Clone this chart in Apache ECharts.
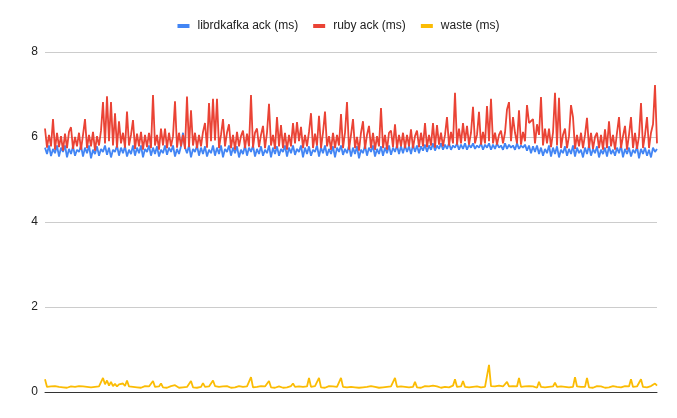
<!DOCTYPE html>
<html><head><meta charset="utf-8">
<script src="https://cdn.jsdelivr.net/npm/echarts@6/dist/echarts.min.js"></script>
<style>html,body{margin:0;padding:0;background:#fff}#c{width:677px;height:418px}</style>
</head><body><div id="c"></div>
<script>
const seriesNames = ["librdkafka ack (ms)", "ruby ack (ms)", "waste (ms)"];
const yTicks = [0, 2, 4, 6, 8];
const librdkafka = [
5.75,5.6,5.8,5.55,5.72,5.62,5.8,5.54,5.75,5.65,
5.8,5.52,5.72,5.6,5.78,5.56,5.7,5.65,5.8,5.54,
5.75,5.62,5.8,5.5,5.7,5.6,5.78,5.56,5.72,5.65,
5.8,5.58,5.75,5.52,5.7,5.65,5.8,5.56,5.75,5.62,
5.78,5.54,5.7,5.6,5.8,5.56,5.75,5.62,5.8,5.52,
5.72,5.65,5.8,5.56,5.75,5.6,5.78,5.54,5.7,5.62,
5.8,5.58,5.75,5.65,5.8,5.54,5.72,5.6,5.78,6.1,
5.75,5.62,5.8,5.52,5.72,5.65,5.8,5.56,5.75,5.6,
5.78,5.54,5.7,5.62,5.8,5.56,5.75,5.6,5.8,5.52,
5.72,5.65,5.8,5.56,5.75,5.62,5.78,5.52,5.7,5.6,
5.8,5.56,5.75,5.65,5.8,5.54,5.72,5.6,5.78,5.56,
5.7,5.62,5.8,5.52,5.75,5.6,5.78,5.56,5.72,5.65,
5.8,5.54,5.75,5.62,5.8,5.58,5.72,5.65,5.8,5.52,
5.75,5.6,5.78,5.56,5.7,5.65,5.8,5.54,5.75,5.62,
5.8,5.56,5.72,5.6,5.78,5.52,5.75,5.65,5.8,5.58,
5.72,5.62,5.8,5.54,5.75,5.6,5.78,5.5,5.7,5.62,
5.8,5.56,5.75,5.65,5.8,5.54,5.72,5.6,5.78,5.56,
5.75,5.62,5.8,5.58,5.75,5.65,5.8,5.6,5.78,5.62,
5.8,5.65,5.78,5.6,5.82,5.65,5.8,5.62,5.78,5.68,
5.82,5.65,5.8,5.7,5.85,5.68,5.8,5.72,5.85,5.7,
5.82,5.72,5.85,5.7,5.8,5.75,5.85,5.7,5.82,5.72,
5.85,5.7,5.82,5.75,5.85,5.72,5.8,5.75,5.85,5.7,
5.82,5.75,5.85,5.7,5.82,5.72,5.85,5.75,5.8,5.7,
5.85,5.72,5.82,5.75,5.8,5.7,5.85,5.72,5.8,5.75,
5.82,5.68,5.8,5.62,5.78,5.65,5.8,5.6,5.75,5.56,
5.72,5.62,5.8,5.54,5.75,5.6,5.78,5.52,5.7,5.62,
5.78,5.56,5.72,5.6,5.8,5.54,5.75,5.62,5.7,5.52,
5.75,5.6,5.8,5.56,5.72,5.62,5.78,5.52,5.7,5.6,
5.75,5.54,5.78,5.6,5.7,5.56,5.75,5.62,5.8,5.52,
5.72,5.6,5.75,5.54,5.7,5.62,5.78,5.5,5.72,5.6,
5.75,5.56,5.7,5.52,5.75,5.65,5.72
];
const rubyAck = [
6.2,5.75,6.05,5.78,6.42,5.7,6.1,5.76,6.02,5.68,
6.08,5.74,6.12,6.23,5.72,6.0,5.78,6.1,5.7,6.05,
6.42,5.74,6.05,5.78,6.12,5.68,6.02,5.8,6.15,6.82,
5.85,6.96,5.9,6.82,5.8,6.56,5.75,6.37,5.85,6.1,
5.75,6.6,5.8,6.05,6.4,5.72,6.08,5.78,6.12,5.7,
6.05,5.76,6.1,5.74,6.99,5.8,6.05,5.7,6.2,5.8,
6.2,5.74,6.1,5.78,6.02,6.84,5.75,6.1,5.78,6.05,
5.72,6.95,5.76,6.63,5.8,6.1,5.74,6.05,5.78,6.12,
6.33,5.75,6.8,5.9,6.9,5.92,6.9,5.74,6.05,6.42,
5.78,6.1,6.3,5.74,6.05,5.7,6.12,5.78,6.02,6.15,
5.74,6.08,5.78,6.99,5.75,6.1,6.2,5.76,6.05,6.26,
5.74,6.1,6.78,5.8,6.05,5.72,6.47,5.78,6.28,5.74,
6.1,5.7,6.05,5.78,6.33,5.85,6.35,5.9,6.24,5.74,
6.05,5.78,6.12,6.56,5.74,6.08,5.8,6.5,5.74,6.1,
6.6,5.78,6.02,5.7,6.1,5.74,6.05,5.8,6.54,5.74,
6.1,6.82,5.7,6.05,6.42,5.74,6.0,5.68,6.1,6.37,
5.72,6.05,6.26,5.74,6.1,5.7,6.02,5.78,6.68,5.74,
6.05,5.7,6.1,6.15,5.76,6.3,5.74,6.05,5.78,6.1,
5.74,6.05,5.78,6.18,5.74,6.02,6.15,5.76,6.1,5.78,
6.33,5.76,6.05,5.8,6.33,5.75,6.28,5.82,6.1,5.78,
6.05,6.47,5.8,6.12,5.85,7.04,5.82,6.2,5.85,6.33,
5.9,6.26,5.82,6.1,6.71,5.85,6.05,6.59,5.82,6.12,
5.85,6.73,5.9,6.9,5.85,6.1,5.82,6.05,6.15,5.85,
6.1,6.65,6.82,5.9,6.47,6.1,5.85,6.63,5.82,6.12,
5.9,6.75,6.33,6.35,6.42,5.85,6.3,6.05,6.94,5.8,
6.2,5.85,6.2,5.76,6.1,7.04,5.8,6.92,5.74,6.05,
6.2,5.74,6.02,6.75,6.47,5.72,6.05,5.78,6.1,5.74,
6.05,6.45,5.74,6.1,5.72,6.0,6.1,5.74,6.05,5.7,
6.18,5.74,6.37,5.78,6.05,5.7,6.1,6.47,5.74,6.02,
6.26,5.7,6.05,6.47,5.74,6.1,5.72,6.02,6.8,5.74,
6.05,6.47,5.74,6.1,6.3,7.22,5.85
];
const waste = [
0.3,0.12,0.09,0.13,0.11,0.14,0.1,0.12,0.13,0.11,
0.14,0.1,0.12,0.13,0.11,0.12,0.1,0.14,0.11,0.13,
0.1,0.12,0.14,0.11,0.13,0.12,0.15,0.13,0.16,0.33,
0.18,0.27,0.15,0.24,0.14,0.19,0.13,0.18,0.15,0.2,
0.14,0.27,0.13,0.16,0.12,0.14,0.11,0.13,0.1,0.12,
0.14,0.11,0.13,0.12,0.26,0.12,0.1,0.13,0.2,0.11,
0.13,0.1,0.12,0.14,0.11,0.16,0.12,0.1,0.13,0.11,
0.14,0.12,0.13,0.26,0.11,0.12,0.1,0.14,0.12,0.21,
0.12,0.15,0.13,0.11,0.27,0.14,0.17,0.12,0.1,0.13,
0.11,0.14,0.12,0.1,0.13,0.11,0.12,0.14,0.1,0.12,
0.11,0.13,0.12,0.35,0.11,0.13,0.12,0.1,0.14,0.11,
0.13,0.12,0.26,0.11,0.14,0.1,0.12,0.13,0.11,0.1,
0.13,0.11,0.12,0.14,0.2,0.12,0.1,0.13,0.11,0.12,
0.1,0.13,0.33,0.12,0.11,0.14,0.12,0.33,0.11,0.13,
0.1,0.12,0.14,0.11,0.13,0.1,0.12,0.11,0.33,0.12,
0.13,0.11,0.1,0.12,0.14,0.11,0.13,0.1,0.12,0.11,
0.13,0.12,0.1,0.14,0.11,0.12,0.13,0.1,0.12,0.11,
0.14,0.12,0.11,0.13,0.15,0.33,0.12,0.11,0.13,0.1,
0.12,0.14,0.11,0.13,0.12,0.24,0.11,0.13,0.1,0.12,
0.14,0.11,0.13,0.12,0.15,0.11,0.13,0.12,0.1,0.13,
0.12,0.14,0.11,0.13,0.15,0.3,0.12,0.14,0.13,0.26,
0.12,0.13,0.11,0.14,0.12,0.1,0.13,0.12,0.11,0.14,
0.12,0.13,0.64,0.14,0.11,0.13,0.12,0.15,0.11,0.13,
0.12,0.24,0.13,0.11,0.14,0.12,0.13,0.33,0.12,0.11,
0.13,0.12,0.14,0.11,0.13,0.12,0.1,0.24,0.12,0.13,
0.11,0.14,0.12,0.1,0.13,0.22,0.12,0.11,0.13,0.1,
0.12,0.14,0.11,0.13,0.12,0.35,0.13,0.11,0.12,0.14,
0.12,0.33,0.11,0.13,0.1,0.12,0.14,0.11,0.13,0.12,
0.1,0.13,0.11,0.12,0.14,0.1,0.12,0.13,0.11,0.12,
0.14,0.11,0.13,0.3,0.12,0.1,0.13,0.11,0.3,0.12,
0.13,0.11,0.12,0.14,0.11,0.2,0.15
];
const categories = rubyAck.map((_, i) => i + 1);
const colors = ["#4285F4", "#EA4335", "#FBBC04"];
const FONT = 'Liberation Sans, Arial, sans-serif';

const chart = echarts.init(document.getElementById('c'), null, {renderer: 'canvas'});
const mk = (name, data, color) => ({
  name, type: 'line', data, symbol: 'none', showSymbol: false,
  lineStyle: {width: 1.8, color}, itemStyle: {color}, animation: false
});
chart.setOption({
  animation: false,
  textStyle: {fontFamily: FONT},
  legend: {
    top: 15, left: 'center', itemWidth: 12, itemHeight: 4, icon: 'rect', itemGap: 15,
    textStyle: {fontSize: 12, color: '#222', fontFamily: FONT, padding: [0, 0, 0, 3]},
    data: seriesNames
  },
  grid: {left: 45, right: 20, top: 52, bottom: 26, containLabel: false},
  xAxis: {
    type: 'category', data: categories, boundaryGap: false,
    axisLine: {show: true, lineStyle: {color: '#333', width: 1}},
    axisTick: {show: false}, axisLabel: {show: false}, splitLine: {show: false}
  },
  yAxis: {
    type: 'value', min: yTicks[0], max: yTicks[yTicks.length - 1], interval: 2,
    axisLine: {show: false}, axisTick: {show: false},
    axisLabel: {color: '#222', fontSize: 12, margin: 7, fontFamily: FONT},
    splitLine: {lineStyle: {color: '#ccc', width: 1}}
  },
  series: [
    mk(seriesNames[0], librdkafka, colors[0]),
    mk(seriesNames[1], rubyAck, colors[1]),
    mk(seriesNames[2], waste, colors[2])
  ]
});
</script></body></html>
